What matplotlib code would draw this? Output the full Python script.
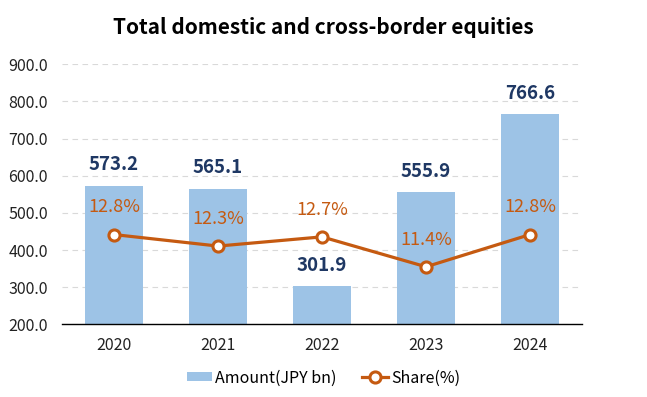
import matplotlib
matplotlib.use('agg')
import matplotlib.pyplot as plt
import numpy as np

years = ['2020', '2021', '2022', '2023', '2024']
amount = [573.2, 565.1, 301.9, 555.9, 766.6]
share = [12.8, 12.3, 12.7, 11.4, 12.8]

plt.rcParams['font.family'] = ['Noto Sans CJK JP', 'DejaVu Sans']

bar_color = '#9DC3E6'
line_color = '#C55A11'
label_color = '#1F3864'

fig = plt.figure(figsize=(6.47, 3.97), dpi=100)
ax = fig.add_axes([62 / 647, 1 - 324.3 / 397, 520 / 647, 260 / 397])
x = np.arange(len(years))

ax.bar(x, amount, width=0.56, color=bar_color, zorder=2, label='Amount(JPY bn)')
ax.set_ylim(200, 900)
ax.set_xlim(-0.5, len(years) - 0.5)
ax.set_yticks(np.arange(200, 901, 100))
ax.set_yticklabels([f'{v:.1f}' for v in np.arange(200, 901, 100)], fontsize=11.5, color='#222222')
ax.set_xticks(x)
ax.set_xticklabels(years, fontsize=11.5, color='#222222')
ax.tick_params(axis='x', length=0, pad=9)
ax.tick_params(axis='y', length=0, pad=10)
ax.yaxis.grid(True, linestyle=(0, (5, 4)), color='#D9D9D9', linewidth=0.8, zorder=0)
ax.set_axisbelow(True)
for s in ['left', 'right', 'top']:
  ax.spines[s].set_visible(False)
ax.spines['bottom'].set_color('black')
ax.spines['bottom'].set_linewidth(1.0)

for xi, v in zip(x, amount):
  ax.annotate(f'{v:.1f}', (xi, v), xytext=(0, 15), textcoords='offset points',
              ha='center', va='center', fontsize=13.5, fontweight='bold', color=label_color)

ax2 = ax.twinx()
ax2.set_ylim(8.9, 20.2)
ax2.axis('off')
ax2.plot(x, share, color=line_color, linewidth=2.3, marker='o', markersize=8,
         markerfacecolor='white', markeredgecolor=line_color, markeredgewidth=2.2,
         zorder=3, label='Share(%)')
for xi, v in zip(x, share):
  ax2.annotate(f'{v:.1f}%', (xi, v), xytext=(0, 19.5), textcoords='offset points',
               ha='center', va='center', fontsize=13, color=line_color)

fig.text(0.5, 1 - 27 / 397, 'Total domestic and cross-border equities', ha='center', va='center',
         fontsize=15, fontweight='bold', color='black')

h1, l1 = ax.get_legend_handles_labels()
h2, l2 = ax2.get_legend_handles_labels()
fig.legend(h1 + h2, l1 + l2, loc='center', bbox_to_anchor=(0.5, 1 - 378 / 397), ncol=2,
           frameon=False, fontsize=11.5, handlelength=1.6, handleheight=0.5,
           handletextpad=0.2, columnspacing=1.6)

plt.savefig('out.png', dpi=100)
plt.close()
